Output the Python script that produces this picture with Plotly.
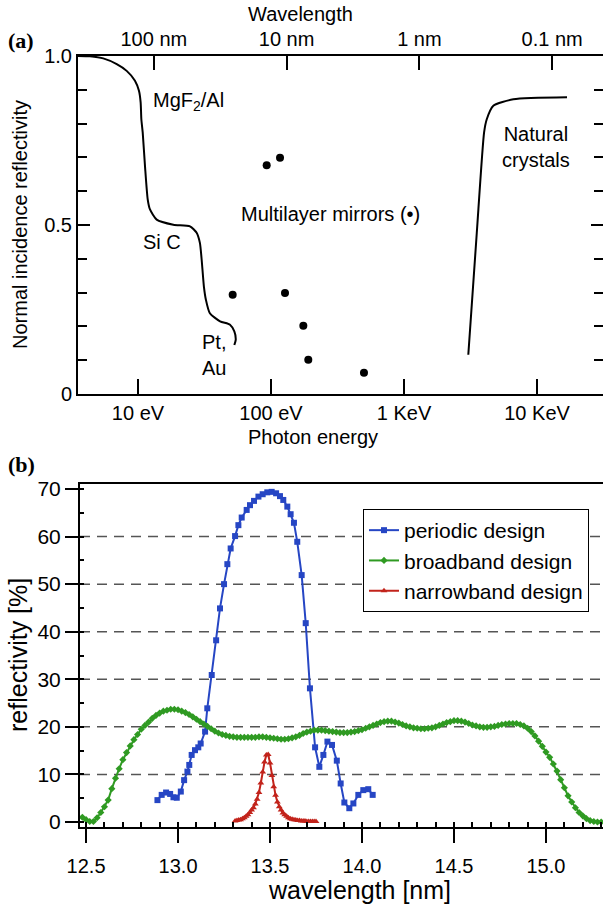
import plotly.graph_objects as go

W, H = 603, 912

# ---------------- panel (a): normal-incidence reflectivity vs photon energy
coat_energy_ev = [3.50, 4.36, 5.48, 6.92, 8.22, 9.49, 10.17, 10.47, 10.60, 10.85,
                  11.29, 11.83, 12.31, 13.82, 18.43, 24.6, 27.6, 29.2, 30.1, 31.3,
                  32.4, 34.7, 41.4, 49.2, 53.0, 54.3, 53.0]
coat_refl = [1.000, 0.999, 0.993, 0.976, 0.956, 0.927, 0.897, 0.863, 0.813, 0.774,
             0.674, 0.576, 0.546, 0.516, 0.501, 0.496, 0.477, 0.447, 0.398, 0.318,
             0.279, 0.239, 0.215, 0.205, 0.185, 0.160, 0.145]

crystal_energy_ev = [3043, 3525, 4000, 4189, 4694, 6640, 16810]
crystal_refl = [0.116, 0.477, 0.774, 0.813, 0.853, 0.872, 0.878]

ml_energy_ev = [51.5, 92.8, 116.9, 127.4, 175.0, 190.7, 500.0]
ml_refl = [0.294, 0.677, 0.699, 0.299, 0.202, 0.101, 0.063]

energy_tickvals = [10, 100, 1000, 10000]
energy_ticktext = ["10 eV", "100 eV", "1 KeV", "10 KeV"]
wl_tickvals = [100, 10, 1, 0.1]
wl_ticktext = ["100 nm", "10 nm", "1 nm", "0.1 nm"]

# ---------------- panel (b): multilayer reflectivity around 13.5 nm
periodic_wl = [12.888, 12.911, 12.935, 12.957, 12.975, 12.993, 13.015, 13.033, 13.051, 13.061,
               13.074, 13.092, 13.110, 13.123, 13.147, 13.159, 13.183, 13.207, 13.228, 13.250,
               13.268, 13.286, 13.310, 13.328, 13.346, 13.373, 13.391, 13.413, 13.437, 13.460,
               13.485, 13.509, 13.533, 13.554, 13.572, 13.594, 13.612, 13.630, 13.648, 13.672,
               13.694, 13.717, 13.745, 13.768, 13.790, 13.812, 13.837, 13.863, 13.884, 13.904,
               13.931, 13.953, 13.980, 14.007, 14.034, 14.058]
periodic_r = [4.6, 5.7, 6.2, 5.9, 5.2, 5.1, 6.4, 8.8, 10.6, 12.0,
              14.1, 15.1, 15.7, 16.5, 19.0, 23.9, 30.9, 38.2, 44.9, 50.0,
              54.2, 57.5, 60.1, 62.4, 64.0, 65.6, 66.6, 67.5, 68.4, 68.9,
              69.3, 69.4, 69.1, 68.5, 67.7, 66.3, 64.7, 62.9, 58.9, 51.9,
              41.8, 28.1, 15.7, 11.6, 14.1, 16.9, 16.2, 12.9, 8.1, 4.1,
              2.9, 3.9, 5.7, 6.7, 6.9, 5.7]

broadband_wl = [12.48, 12.50, 12.52, 12.54, 12.56, 12.58, 12.60, 12.62, 12.64, 12.66,
                12.68, 12.70, 12.72, 12.74, 12.76, 12.78, 12.80, 12.82, 12.84, 12.86,
                12.88, 12.90, 12.92, 12.94, 12.96, 12.98, 13.00, 13.02, 13.04, 13.06,
                13.08, 13.10, 13.12, 13.14, 13.16, 13.18, 13.20, 13.22, 13.24, 13.26,
                13.28, 13.30, 13.32, 13.34, 13.36, 13.38, 13.40, 13.42, 13.44, 13.46,
                13.48, 13.50, 13.52, 13.54, 13.56, 13.58, 13.60, 13.62, 13.64, 13.66,
                13.68, 13.70, 13.72, 13.74, 13.76, 13.78, 13.80, 13.82, 13.84, 13.86,
                13.88, 13.90, 13.92, 13.94, 13.96, 13.98, 14.00, 14.02, 14.04, 14.06,
                14.08, 14.10, 14.12, 14.14, 14.16, 14.18, 14.20, 14.22, 14.24, 14.26,
                14.28, 14.30, 14.32, 14.34, 14.36, 14.38, 14.40, 14.42, 14.44, 14.46,
                14.48, 14.50, 14.52, 14.54, 14.56, 14.58, 14.60, 14.62, 14.64, 14.66,
                14.68, 14.70, 14.72, 14.74, 14.76, 14.78, 14.80, 14.82, 14.84, 14.86,
                14.88, 14.90, 14.92, 14.94, 14.96, 14.98, 15.00, 15.02, 15.04, 15.06,
                15.08, 15.10, 15.12, 15.14, 15.16, 15.18, 15.20, 15.22, 15.24, 15.26,
                15.28, 15.30]
broadband_r = [1.0, 0.5, 0.1, 0.1, 0.9, 2.0, 3.2, 4.6, 7.0, 9.2,
               11.2, 13.1, 14.6, 16.0, 17.3, 18.4, 19.5, 20.3, 21.0, 21.8,
               22.4, 22.9, 23.3, 23.5, 23.7, 23.7, 23.6, 23.3, 23.0, 22.6,
               22.1, 21.6, 21.1, 20.6, 20.1, 19.6, 19.1, 18.7, 18.4, 18.2,
               18.0, 17.9, 17.8, 17.8, 17.8, 17.8, 17.8, 17.8, 17.9, 17.9,
               17.8, 17.7, 17.6, 17.5, 17.4, 17.4, 17.5, 17.7, 17.9, 18.2,
               18.6, 18.9, 19.1, 19.3, 19.3, 19.3, 19.2, 19.1, 19.0, 18.9,
               18.8, 18.8, 18.8, 18.9, 19.0, 19.2, 19.4, 19.7, 20.0, 20.3,
               20.6, 20.9, 21.1, 21.2, 21.2, 21.0, 20.8, 20.5, 20.2, 20.0,
               19.8, 19.7, 19.6, 19.6, 19.7, 19.8, 20.0, 20.3, 20.6, 20.9,
               21.1, 21.3, 21.3, 21.2, 21.0, 20.7, 20.4, 20.2, 20.0, 19.9,
               19.9, 20.0, 20.1, 20.3, 20.5, 20.6, 20.7, 20.7, 20.7, 20.5,
               20.2, 19.7, 19.0, 18.1, 17.0, 15.9, 14.7, 13.6, 12.2, 10.7,
               8.9, 7.2, 5.5, 4.2, 3.0, 2.0, 1.3, 0.7, 0.3, 0.1,
               0.0, 0.0]

narrowband_wl = [13.31, 13.32, 13.33, 13.34, 13.35, 13.36, 13.37, 13.38, 13.39, 13.40,
                 13.41, 13.42, 13.43, 13.44, 13.45, 13.46, 13.47, 13.48, 13.49, 13.50,
                 13.51, 13.52, 13.53, 13.54, 13.55, 13.56, 13.57, 13.58, 13.59, 13.60,
                 13.61, 13.62, 13.63, 13.64, 13.65, 13.66, 13.67, 13.68, 13.69, 13.70,
                 13.71, 13.72, 13.73, 13.74, 13.75]
narrowband_r = [0.2, 0.3, 0.4, 0.5, 0.7, 0.9, 1.2, 1.5, 2.0, 2.5,
                3.0, 3.8, 4.8, 6.2, 8.2, 10.5, 12.6, 14.1, 14.2, 12.4,
                9.8, 7.4, 5.6, 4.2, 3.2, 2.5, 1.9, 1.5, 1.2, 0.9,
                0.7, 0.6, 0.5, 0.4, 0.3, 0.3, 0.2, 0.2, 0.2, 0.1,
                0.1, 0.1, 0.1, 0.1, 0.1]

grid_levels = [10, 20, 30, 40, 50, 60]

FONT = "Liberation Sans, Arial, Helvetica, sans-serif"
SERIF = "Liberation Serif, Times New Roman, serif"
BLUE, GREEN, RED = "#2646c4", "#2f9a22", "#c2231b"

fig = go.Figure()

# panel (a) traces
fig.add_trace(go.Scatter(x=coat_energy_ev, y=coat_refl, mode="lines",
                         line=dict(color="black", width=2, shape="spline", smoothing=0.6),
                         xaxis="x", yaxis="y", showlegend=False, hoverinfo="skip"))
fig.add_trace(go.Scatter(x=crystal_energy_ev, y=crystal_refl, mode="lines",
                         line=dict(color="black", width=2, shape="spline", smoothing=0.6),
                         xaxis="x", yaxis="y", showlegend=False, hoverinfo="skip"))
fig.add_trace(go.Scatter(x=ml_energy_ev, y=ml_refl, mode="markers",
                         marker=dict(color="black", size=8),
                         xaxis="x", yaxis="y", showlegend=False, hoverinfo="skip"))
# empty trace that carries the wavelength axis
fig.add_trace(go.Scatter(x=[], y=[], xaxis="x2", yaxis="y", showlegend=False))

# panel (b) traces
fig.add_trace(go.Scatter(x=periodic_wl, y=periodic_r, mode="lines+markers", name="periodic design",
                         line=dict(color=BLUE, width=2),
                         marker=dict(symbol="square", size=6, color=BLUE),
                         xaxis="x3", yaxis="y3"))
fig.add_trace(go.Scatter(x=broadband_wl, y=broadband_r, mode="lines+markers", name="broadband design",
                         line=dict(color=GREEN, width=2),
                         marker=dict(symbol="diamond", size=5.5, color=GREEN),
                         xaxis="x3", yaxis="y3"))
fig.add_trace(go.Scatter(x=narrowband_wl, y=narrowband_r, mode="lines+markers", name="narrowband design",
                         line=dict(color=RED, width=2),
                         marker=dict(symbol="triangle-up", size=6, color=RED),
                         xaxis="x3", yaxis="y3"))

axis_common = dict(showline=True, linecolor="black", linewidth=2, showgrid=False,
                   zeroline=False, tickcolor="black", tickwidth=1.5, automargin=False)

# dashed reference levels in panel (b)
shapes = [dict(type="line", xref="x3 domain", yref="y3", x0=0, x1=1, y0=g, y1=g,
               line=dict(color="#555555", width=1.5, dash="10px,7px"), layer="below")
          for g in grid_levels]


def note(text, x, y, xref="paper", yref="paper", size=20, **kw):
    if xref == "paper":
        x = x / W
    if yref == "paper":
        y = 1 - y / H
    d = dict(text=text, x=x, y=y, xref=xref, yref=yref, showarrow=False,
             xanchor="center", yanchor="middle", font=dict(size=size))
    d.update(kw)
    return d


annotations = [
    note("MgF<sub>2</sub>/Al", 1.376, 0.864, "x", "y"),
    note("Si C", 1.180, 0.451, "x", "y"),
    note("Pt,<br>Au", 1.571, 0.116, "x", "y", align="left"),
    note("Multilayer mirrors (\u2022)", 2.451, 0.534, "x", "y"),
    note("Natural<br>crystals", 3.992, 0.730, "x", "y"),
    note("Wavelength", 300, 14),
    note("Photon energy", 313, 437),
    note("Normal incidence reflectivity", 20, 225, textangle=-90),
    note("<b>(a)</b>", 21, 40, size=22, font=dict(size=22, family=SERIF)),
    note("<b>(b)</b>", 21, 465, size=22, font=dict(size=22, family=SERIF)),
    note("reflectivity [%]", 18, 655, size=25, textangle=-90),
    note("wavelength [nm]", 360, 890, size=25),
]

fig.update_layout(
    width=W, height=H, margin=dict(l=0, r=0, t=0, b=0, autoexpand=False),
    paper_bgcolor="white", plot_bgcolor="rgba(0,0,0,0)",
    font=dict(family=FONT, color="black", size=20),
    xaxis=dict(axis_common, domain=[78 / W, 1.0], anchor="y", type="log", range=[0.549, 4.496],
               tickvals=energy_tickvals, ticktext=energy_ticktext, ticks="inside", ticklen=15,
               tickfont=dict(size=20), mirror=False),
    xaxis2=dict(axis_common, overlaying="x", anchor="y", side="top", type="log",
                range=[2.571, -1.383], tickvals=wl_tickvals, ticktext=wl_ticktext,
                ticks="inside", ticklen=14, tickfont=dict(size=20)),
    yaxis=dict(axis_common, domain=[1 - 394 / H, 1 - 56 / H], anchor="x", range=[0, 1],
               tickvals=[0, 0.5, 1.0], ticktext=["0", "0.5", "1.0"], ticks="inside", ticklen=12,
               mirror="ticks", tickfont=dict(size=20),
               minor=dict(dtick=0.1, ticks="inside", ticklen=9, tickcolor="black", tickwidth=1.5)),
    xaxis3=dict(axis_common, domain=[80 / W, 1.0], anchor="y3", range=[12.467, 15.31],
                tick0=12.5, dtick=0.5, tickformat=".1f", ticks="outside", ticklen=14,
                ticklabelstandoff=6,
                mirror=True, tickfont=dict(size=20),
                minor=dict(dtick=0.1, ticks="inside", ticklen=5, tickcolor="black", tickwidth=1.5)),
    yaxis3=dict(axis_common, domain=[1 - 827 / H, 1 - 484 / H], anchor="x3", range=[-1.05, 71.05],
                tick0=0, dtick=10, ticks="outside", ticklen=13, tickfont=dict(size=21),
                minor=dict(dtick=5, ticks="inside", ticklen=4, tickcolor="black", tickwidth=1.5)),
    legend=dict(x=363 / W, y=1 - 509 / H, xanchor="left", yanchor="top",
                bordercolor="black", borderwidth=1, bgcolor="white",
                font=dict(size=21), itemwidth=30, tracegroupgap=0),
    shapes=shapes,
    annotations=annotations,
)

fig.write_html("out.html")
